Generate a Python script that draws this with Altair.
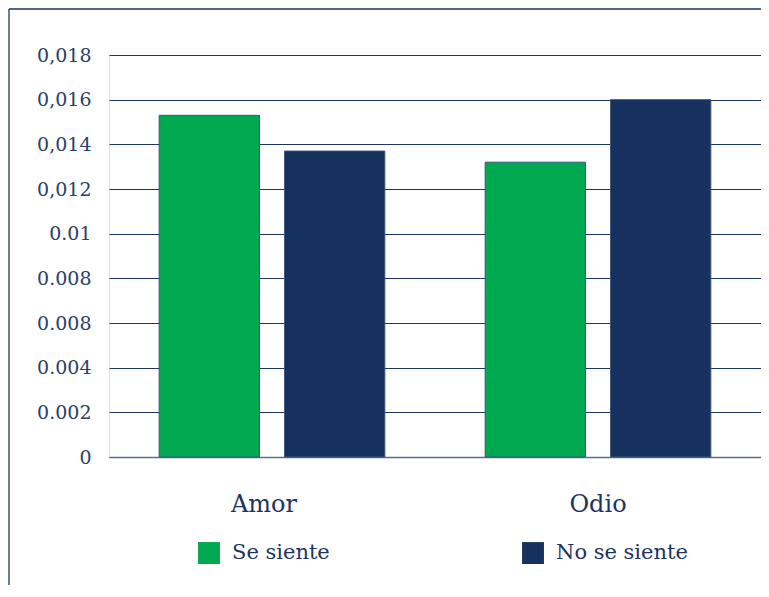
import json
import altair as alt
import pandas as pd

categories = ["Amor", "Amor", "Odio", "Odio"]
series = ["Se siente", "No se siente", "Se siente", "No se siente"]
values = [0.0153, 0.0137, 0.0132, 0.0160]

series_order = ["Se siente", "No se siente"]
series_colors = ["#00a94f", "#16315d"]

tick_values = [0, 0.002, 0.004, 0.006, 0.008, 0.010, 0.012, 0.014, 0.016, 0.018]
tick_labels = ["0", "0.002", "0.004", "0.008", "0.008", "0.01", "0,012", "0,014", "0,016", "0,018"]

df = pd.DataFrame({"cat": categories, "serie": series, "valor": values})

TEXT = "#1d3461"
FONT = "DejaVu Serif"
W, H = 652, 402

label_expr = f"{json.dumps(tick_labels)}[round(datum.value / 0.002)]"

bars = alt.Chart(df).mark_bar(stroke="#3d557d", strokeWidth=1).encode(
    x=alt.X("cat:N", sort=["Amor", "Odio"], title=None,
            scale=alt.Scale(paddingInner=0, paddingOuter=0),
            axis=alt.Axis(labelAngle=0, labelPadding=35, labelFontSize=24,
                          labelFont=FONT, labelColor=TEXT, ticks=False,
                          domain=True, domainColor="#5b6e90", domainWidth=1.5,
                          labelOffset={"condition": {"test": "datum.value == 'Amor'", "value": -8},
                                       "value": 0},
                          grid=False)),
    xOffset=alt.XOffset("serie:N", sort=series_order,
                        scale=alt.Scale(paddingInner=0.2, paddingOuter=0.4)),
    y=alt.Y("valor:Q", title=None,
            scale=alt.Scale(domain=[0, 0.018], nice=False, zero=True),
            axis=alt.Axis(values=tick_values, labelExpr=label_expr,
                          domain=False, ticks=False, grid=True,
                          gridColor="#1d3461", gridWidth=1,
                          labelPadding=18, labelFontSize=19, labelFont=FONT,
                          labelColor="#2a4068")),
    color=alt.Color("serie:N", sort=series_order,
                    scale=alt.Scale(domain=series_order, range=series_colors),
                    legend=alt.Legend(title=None, orient="none", legendX=89,
                                      legendY=487, direction="horizontal",
                                      columnPadding=192, labelOffset=12,
                                      symbolType="square", symbolSize=480,
                                      symbolStrokeWidth=0,
                                      labelFontSize=21, labelFont=FONT,
                                      labelColor=TEXT)),
)

frame_data = alt.Data(values=[{"k": 1}])
frame_left = alt.Chart(frame_data).mark_rule(color=TEXT, strokeWidth=1.3).encode(
    x=alt.value(-100), y=alt.value(-46), y2=alt.value(H + 140)
)
frame_top = alt.Chart(frame_data).mark_rule(color=TEXT, strokeWidth=1.3).encode(
    x=alt.value(-100), x2=alt.value(W + 10), y=alt.value(-46)
)

chart = alt.layer(frame_left, frame_top, bars).properties(
    width=W, height=H,
    autosize=alt.AutoSizeParams(type="none"),
    padding={"left": 101, "top": 47, "right": 0, "bottom": 128},
).configure_view(stroke=None).configure(background="white")

chart.save("out.html", embed_options={"renderer": "svg", "actions": False})
